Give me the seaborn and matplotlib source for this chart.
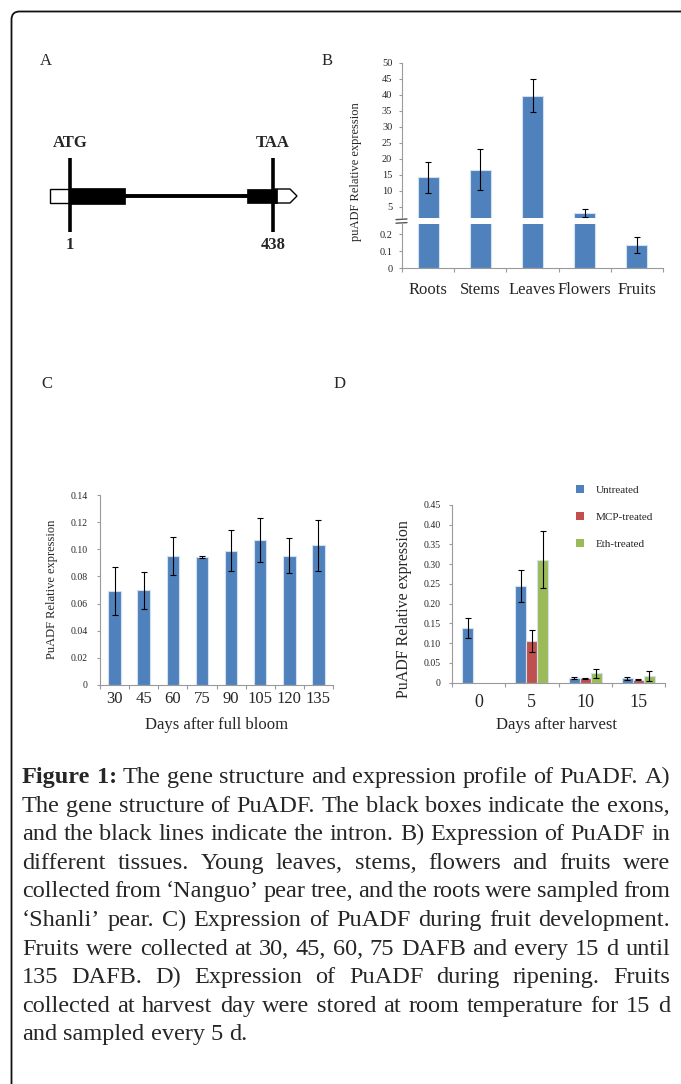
import numpy as np
import pandas as pd
import matplotlib
matplotlib.use('Agg')
import matplotlib.pyplot as plt
import seaborn as sns
from matplotlib.patches import Rectangle, Polygon, PathPatch, Patch
from matplotlib.path import Path
from matplotlib.ticker import FuncFormatter

# ---- data ----
tissues = ['Roots', 'Stems', 'Leaves', 'Flowers', 'Fruits']
tissue_expr = [14.3, 16.6, 39.8, 3.1, 0.135]
tissue_err = [4.9, 6.4, 5.2, 1.2, 0.048]

dafb_days = ['30', '45', '60', '75', '90', '105', '120', '135']
dafb_expr = [0.069, 0.0698, 0.0947, 0.0943, 0.0989, 0.107, 0.0952, 0.1028]
dafb_err = [0.0176, 0.0137, 0.014, 0.0008, 0.015, 0.016, 0.0128, 0.0186]

harvest_days = ['0', '5', '10', '15']
treatments = ['Untreated', 'MCP-treated', 'Eth-treated']
untreated_expr = [0.139, 0.245, 0.012, 0.011]
untreated_err = [0.025, 0.040, 0.003, 0.003]
mcp_expr = [np.nan, 0.106, 0.011, 0.008]      # no MCP sample at day 0
mcp_err = [np.nan, 0.028, 0.002, 0.002]
eth_expr = [np.nan, 0.311, 0.024, 0.017]      # no Eth sample at day 0
eth_err = [np.nan, 0.072, 0.011, 0.012]

caption_lines = [
    "Figure 1: The gene structure and expression profile of PuADF. A)",
    "The gene structure of PuADF. The black boxes indicate the exons,",
    "and the black lines indicate the intron. B) Expression of PuADF in",
    "different tissues. Young leaves, stems, flowers and fruits were",
    "collected from \u2018Nanguo\u2019 pear tree, and the roots were sampled from",
    "\u2018Shanli\u2019 pear. C) Expression of PuADF during fruit development.",
    "Fruits were collected at 30, 45, 60, 75 DAFB and every 15 d until",
    "135 DAFB. D) Expression of PuADF during ripening. Fruits",
    "collected at harvest day were stored at room temperature for 15 d",
    "and sampled every 5 d.",
]

BLUE, RED, GREEN = '#4f81bd', '#c0504d', '#9bbb59'
AXIS_GRAY = '#9a9a9a'
EDGE = '#d5e0ee'

W, H = 681, 1084


def frac_rect(left, top, right, bottom):
    return [left / W, 1 - bottom / H, (right - left) / W, (bottom - top) / H]


def fig_xy(x, y):
    return x / W, 1 - y / H


sns.set_style('white')
plt.rcParams['font.family'] = ['Liberation Serif', 'DejaVu Serif']
plt.rcParams['axes.unicode_minus'] = False

fig = plt.figure(figsize=(W / 100, H / 100), dpi=100)

# overlay in pixel units for frame, letters, gene model and caption
ov = fig.add_axes([0, 0, 1, 1])
ov.set_xlim(0, W)
ov.set_ylim(H, 0)
ov.axis('off')


def style_axes(ax, n, ytick_size, xtick_size, xpad, ypad):
    for side in ['top', 'right']:
        ax.spines[side].set_visible(False)
    for side in ['left', 'bottom']:
        ax.spines[side].set_color(AXIS_GRAY)
        ax.spines[side].set_linewidth(0.8)
    ax.set_xticks(np.arange(n + 1) - 0.5, minor=True)
    ax.tick_params(axis='x', which='major', bottom=True, length=0, labelsize=xtick_size, pad=xpad)
    ax.tick_params(axis='x', which='minor', bottom=True, length=3, width=0.8, color=AXIS_GRAY, direction='out')
    ax.tick_params(axis='y', left=True, length=2, width=0.8, color=AXIS_GRAY, direction='out',
                   labelsize=ytick_size, pad=ypad)
    ax.set_xlim(-0.5, n - 0.5)
    ax.set_facecolor('none')
    ax.set_xlabel('')
    ax.set_ylabel('')


def add_errors(ax, values, errors, lo=-np.inf, hi=np.inf, capsize=2.3):
    centers = [p.get_x() + p.get_width() / 2 for p in ax.patches]
    for x, v, e in zip(centers, values, errors):
        if lo < v < hi:
            ax.errorbar(x, v, yerr=e, fmt='none', ecolor='black', elinewidth=0.8,
                        capsize=capsize, capthick=0.8)


zero_fmt = FuncFormatter(lambda v, p: '0' if abs(v) < 1e-9 else f'{v:.2f}')

# ==========================================
# B) tissues, broken y axis
# ==========================================
ax_bu = fig.add_axes(frac_rect(402, 63, 663, 218))
ax_bl = fig.add_axes(frac_rect(402, 224, 663, 268))
for ax in (ax_bu, ax_bl):
    sns.barplot(x=tissues, y=tissue_expr, color=BLUE, saturation=1, width=0.4,
                errorbar=None, edgecolor=EDGE, linewidth=0.8, ax=ax)
    style_axes(ax, len(tissues), 7.5, 12, 10, 5)

ax_bu.set_ylim(1.56, 50)
ax_bu.set_yticks(np.arange(5, 51, 5))
ax_bu.spines['bottom'].set_visible(False)
ax_bu.tick_params(axis='x', which='both', bottom=False, labelbottom=False)
add_errors(ax_bu, tissue_expr, tissue_err, lo=1.56, capsize=2.2)

ax_bl.set_ylim(0, 0.259)
ax_bl.set_yticks([0, 0.1, 0.2])
ax_bl.yaxis.set_major_formatter(FuncFormatter(lambda v, p: '0' if v == 0 else f'{v:.1f}'))
add_errors(ax_bl, tissue_expr, tissue_err, hi=0.259, capsize=2.2)

ax_bu.set_ylabel('puADF Relative expression', fontsize=9)
ax_bu.yaxis.label.set_va('center')
ax_bu.yaxis.set_label_coords(*fig_xy(356, 172), transform=fig.transFigure)

# break marks on the y axis
ov.plot([396, 407], [219.6, 219.0], color='#555555', lw=1.0)
ov.plot([396, 407], [223.2, 222.6], color='#555555', lw=1.0)

# ==========================================
# C) fruit development
# ==========================================
ax_c = fig.add_axes(frac_rect(100, 495, 333, 685))
sns.barplot(x=dafb_days, y=dafb_expr, color=BLUE, saturation=1, width=0.43,
            errorbar=None, edgecolor=EDGE, linewidth=0.8, ax=ax_c)
style_axes(ax_c, len(dafb_days), 7, 12, 4, 7)
ax_c.set_ylim(0, 0.14)
ax_c.set_yticks(np.arange(0, 0.141, 0.02))
ax_c.yaxis.set_major_formatter(zero_fmt)
add_errors(ax_c, dafb_expr, dafb_err, capsize=2.5)
ax_c.set_xlabel('Days after full bloom', fontsize=12)
ax_c.xaxis.set_label_coords(*fig_xy(217, 717), transform=fig.transFigure)
ax_c.set_ylabel('PuADF Relative expression', fontsize=9)
ax_c.yaxis.label.set_va('center')
ax_c.yaxis.set_label_coords(*fig_xy(52, 589), transform=fig.transFigure)

# ==========================================
# D) ripening
# ==========================================
df_d = pd.DataFrame({
    'day': harvest_days * 3,
    'treatment': np.repeat(treatments, len(harvest_days)),
    'expr': untreated_expr + mcp_expr + eth_expr,
    'err': untreated_err + mcp_err + eth_err,
}).dropna()

ax_d = fig.add_axes(frac_rect(452, 505, 665, 682.7))
sns.barplot(data=df_d, x='day', y='expr', hue='treatment', order=harvest_days,
            hue_order=treatments, palette=[BLUE, RED, GREEN], saturation=1,
            width=0.62, dodge=True, errorbar=None, edgecolor=EDGE, linewidth=0.8,
            legend=False, ax=ax_d)
style_axes(ax_d, len(harvest_days), 7, 13, 8, 6)
ax_d.set_ylim(0, 0.45)
ax_d.set_yticks(np.arange(0, 0.451, 0.05))
ax_d.yaxis.set_major_formatter(zero_fmt)
for cont, trt in zip(ax_d.containers, treatments):
    sub = df_d[df_d['treatment'] == trt]
    for bar, (_, row) in zip(cont, sub.iterrows()):
        ax_d.errorbar(bar.get_x() + bar.get_width() / 2, row['expr'], yerr=row['err'],
                      fmt='none', ecolor='black', elinewidth=0.8, capsize=2.2, capthick=0.8)
ax_d.set_xlabel('Days after harvest', fontsize=12)
ax_d.xaxis.set_label_coords(*fig_xy(556, 717), transform=fig.transFigure)
ax_d.set_ylabel('PuADF Relative expression', fontsize=11.5)
ax_d.yaxis.label.set_va('center')
ax_d.yaxis.set_label_coords(*fig_xy(404, 609), transform=fig.transFigure)

handles = [Patch(facecolor=c, edgecolor='none', label=t) for c, t in zip([BLUE, RED, GREEN], treatments)]
ax_d.legend(handles=handles, loc='upper left', bbox_to_anchor=fig_xy(576, 485),
            bbox_transform=fig.transFigure, frameon=False, fontsize=8,
            handlelength=0.7, handleheight=0.7, handletextpad=1.1,
            labelspacing=1.55, borderpad=0, borderaxespad=0)

# ==========================================
# frame and panel letters
# ==========================================
frame = Path([(W, 11.5), (19.5, 11.5), (11.5, 11.5), (11.5, 19.5), (11.5, H)],
             [Path.MOVETO, Path.LINETO, Path.CURVE3, Path.CURVE3, Path.LINETO])
ov.add_patch(PathPatch(frame, fill=False, edgecolor='#111111', lw=1.3, clip_on=False))

for letter, (lx, ly) in zip('ABCD', [(46, 61), (327, 61), (47, 384), (340, 384)]):
    ov.text(lx, ly, letter, fontsize=12, ha='center', va='center')

# ==========================================
# A) gene model
# ==========================================
ov.add_patch(Rectangle((50, 189), 22, 14, facecolor='white', edgecolor='black', lw=1.0))
ov.add_patch(Polygon([(275, 189), (290, 189), (297, 196), (290, 203), (275, 203)],
                     closed=True, facecolor='white', edgecolor='black', lw=1.0))
ov.plot([124, 248], [196, 196], color='black', lw=2.8, solid_capstyle='butt')
ov.add_patch(Rectangle((70, 188.3), 55, 15.5, facecolor='black', edgecolor='black', lw=0.5))
ov.add_patch(Rectangle((247, 188.5), 30, 14.5, facecolor='black', edgecolor='black', lw=0.5))
for gx in (70, 273):
    ov.plot([gx, gx], [158, 232], color='black', lw=2.6, solid_capstyle='butt')
ov.text(70, 143, 'ATG', fontsize=12, fontweight='bold', ha='center', va='center')
ov.text(273, 143, 'TAA', fontsize=12, fontweight='bold', ha='center', va='center')
ov.text(70, 245, '1', fontsize=12, fontweight='bold', ha='center', va='center')
ov.text(273, 245, '438', fontsize=12, fontweight='bold', ha='center', va='center')

# ==========================================
# caption, justified
# ==========================================
renderer = fig.canvas.get_renderer()
cap_size = 17.5
x0, x1 = 22, 670
t1 = ov.text(0, 0, 'a a', fontsize=cap_size)
t2 = ov.text(0, 0, 'aa', fontsize=cap_size)
space_w = t1.get_window_extent(renderer).width - t2.get_window_extent(renderer).width
t1.remove()
t2.remove()

for i, line in enumerate(caption_lines):
    y = 783 + i * 28.6
    words = line.split(' ')
    texts = []
    for j, w in enumerate(words):
        weight = 'bold' if (i == 0 and j < 2) else 'normal'
        texts.append(ov.text(0, y, w, fontsize=cap_size, fontweight=weight, ha='left', va='baseline'))
    widths = [t.get_window_extent(renderer).width for t in texts]
    if i == len(caption_lines) - 1:
        gap = space_w
    else:
        gap = (x1 - x0 - sum(widths)) / (len(words) - 1)
    x = x0
    for t, wd in zip(texts, widths):
        t.set_x(x)
        x += wd + gap

fig.savefig('out.png', dpi=100)
